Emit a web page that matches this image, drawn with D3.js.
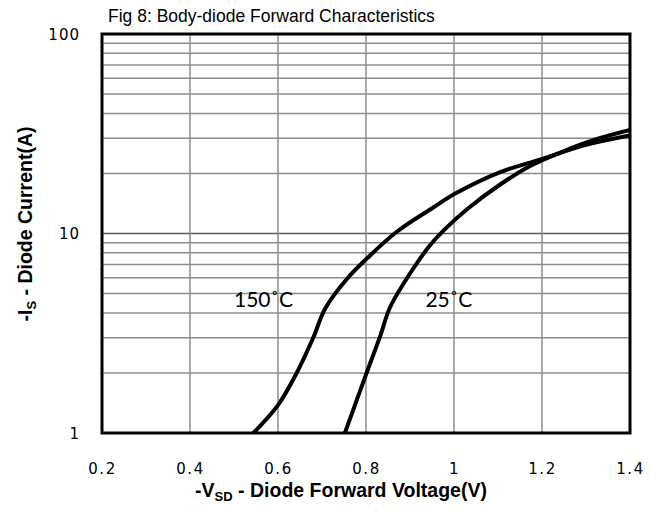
<!DOCTYPE html>
<html><head><meta charset="utf-8">
<script src="https://cdn.jsdelivr.net/npm/d3@7"></script>
<style>body{margin:0;background:#fff}svg{display:block}</style>
</head><body>
<script>
const xTicks = [0.2, 0.4, 0.6, 0.8, 1.0, 1.2, 1.4];
const yTicks = [1, 10, 100];
const v150 = [0.544, 0.600, 0.642, 0.680, 0.707, 0.756, 0.805, 0.870, 0.953, 1.002, 1.105, 1.199, 1.30, 1.40];
const i150 = [1.0, 1.38, 1.99, 3.0, 4.2, 5.9, 7.6, 10.2, 13.5, 15.8, 20.3, 23.6, 27.8, 31.0];
const v25 = [0.752, 0.801, 0.832, 0.855, 0.900, 0.945, 0.983, 1.029, 1.105, 1.173, 1.25, 1.32, 1.40];
const i25 = [1.0, 1.99, 3.05, 4.28, 6.3, 8.7, 10.7, 13.2, 17.6, 21.8, 25.9, 29.5, 33.0];
const labels = [{t:"150˚C", v:0.5, i:4.3}, {t:"25˚C", v:0.935, i:4.3}];

const W = 662, H = 517;
const L = 102, R = 630, T = 34, B = 433;
const svg = d3.select("body").append("svg").attr("width", W).attr("height", H);
const x = d3.scaleLinear().domain([0.2, 1.4]).range([L, R]);
const y = d3.scaleLog().domain([1, 100]).range([B, T]);

// grid
const minor = [];
[1, 10].forEach(d => { for (let k = 2; k <= 9; k++) minor.push(d * k); });
svg.append("g").selectAll("line.h").data(minor).join("line")
  .attr("x1", L).attr("x2", R).attr("y1", d => y(d)).attr("y2", d => y(d))
  .attr("stroke", "#8c8c8c").attr("stroke-width", 1.5);
svg.append("g").selectAll("line.hm").data([10]).join("line")
  .attr("x1", L).attr("x2", R).attr("y1", d => y(d)).attr("y2", d => y(d))
  .attr("stroke", "#5a5a5a").attr("stroke-width", 1.5);
svg.append("g").selectAll("line.v").data(xTicks.slice(1, -1)).join("line")
  .attr("x1", d => x(d)).attr("x2", d => x(d)).attr("y1", T).attr("y2", B)
  .attr("stroke", "#8c8c8c").attr("stroke-width", 1.5);

// curves
svg.append("clipPath").attr("id", "c").append("rect")
  .attr("x", L).attr("y", T).attr("width", R - L).attr("height", B - T);
const line = d3.line().x(d => x(d[0])).y(d => y(d[1])).curve(d3.curveCatmullRom.alpha(0.5));
[[v150, i150], [v25, i25]].forEach(([vs, is]) => {
  svg.append("path").attr("clip-path", "url(#c)")
    .attr("d", line(vs.map((v, k) => [v, is[k]])))
    .attr("fill", "none").attr("stroke", "#000").attr("stroke-width", 4)
    .attr("stroke-linejoin", "round");
});

// frame
svg.append("rect").attr("x", L).attr("y", T).attr("width", R - L).attr("height", B - T)
  .attr("fill", "none").attr("stroke", "#000").attr("stroke-width", 3);

// axes
const xAxis = d3.axisBottom(x).tickValues(xTicks).tickSize(0).tickPadding(0)
  .tickFormat(d => d3.format("")(+d.toFixed(1)));
const gx = svg.append("g").attr("transform", `translate(0,${B})`).call(xAxis);
gx.select(".domain").remove();
gx.selectAll("text").attr("dy", null).attr("y", 41)
  .attr("font-family", "DejaVu Sans").attr("font-size", 15).attr("letter-spacing", "1.5px")
  .attr("fill", "#000");
const yAxis = d3.axisLeft(y).tickValues(yTicks).tickSize(0).tickPadding(0)
  .tickFormat(d3.format("d"));
const gy = svg.append("g").attr("transform", `translate(${L - 22},0)`).call(yAxis);
gy.select(".domain").remove();
gy.selectAll("text").attr("x", 0).attr("dy", "0.35em")
  .attr("font-family", "DejaVu Sans").attr("font-size", 15).attr("letter-spacing", "1px")
  .attr("fill", "#000");

// labels
svg.append("g").selectAll("text").data(labels).join("text")
  .attr("x", d => x(d.v)).attr("y", d => y(d.i))
  .attr("font-family", "Lato").attr("font-size", 21).attr("fill", "#000")
  .text(d => d.t);

// title
svg.append("text").attr("x", 108).attr("y", 22)
  .attr("font-family", "Liberation Sans").attr("font-size", 17.5).attr("fill", "#000")
  .text("Fig 8: Body-diode Forward Characteristics");

// axis titles
const xt = svg.append("text").attr("x", 341).attr("y", 497).attr("text-anchor", "middle")
  .attr("font-family", "Liberation Sans").attr("font-weight", "bold").attr("font-size", 19.5).attr("fill", "#000");
xt.append("tspan").text("-V");
xt.append("tspan").attr("font-size", 13).attr("dy", 4).text("SD");
xt.append("tspan").attr("dy", -4).text(" - Diode Forward Voltage(V)");

const yt = svg.append("text").attr("transform", "translate(32,224) rotate(-90)").attr("text-anchor", "middle")
  .attr("font-family", "Liberation Sans").attr("font-weight", "bold").attr("font-size", 19.5).attr("fill", "#000");
yt.append("tspan").text("-I");
yt.append("tspan").attr("font-size", 13).attr("dy", 4).text("S");
yt.append("tspan").attr("dy", -4).text(" - Diode Current(A)");
</script>
</body></html>
